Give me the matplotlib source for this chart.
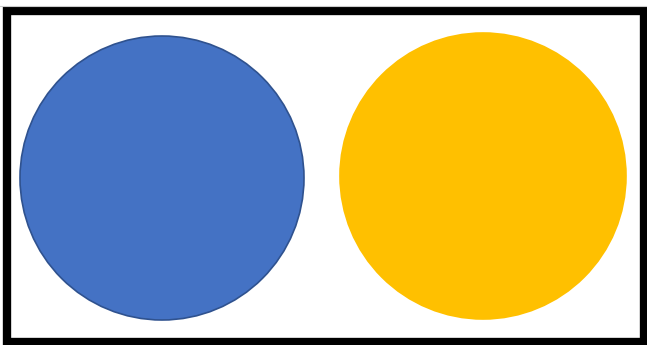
import matplotlib.pyplot as plt
from matplotlib.patches import Circle, Rectangle

# two circles, in pixel units of the picture
names = ['blue', 'yellow']
cx = [162, 483]
cy = [178, 176]
radius = [142, 143]
fills = ['#4472C4', '#FFC000']
edges = ['#2F528F', '#FFC000']

W, H = 647, 345
fig = plt.figure(figsize=(W / 100, H / 100), dpi=100)
ax = fig.add_axes([0, 0, 1, 1])
ax.set_xlim(0, W)
ax.set_ylim(H, 0)
ax.axis('off')

for x, y, r, fc, ec in zip(cx, cy, radius, fills, edges):
    ax.add_patch(Circle((x, y), r, facecolor=fc, edgecolor=ec, linewidth=1.2))

# thick black frame
ax.add_patch(Rectangle((7, 11), 637, 331, fill=False, edgecolor='black', linewidth=6))
ax.plot([0, W], [6, 6], color='#cccccc', linewidth=0.8)

fig.savefig('out.png', dpi=100)
